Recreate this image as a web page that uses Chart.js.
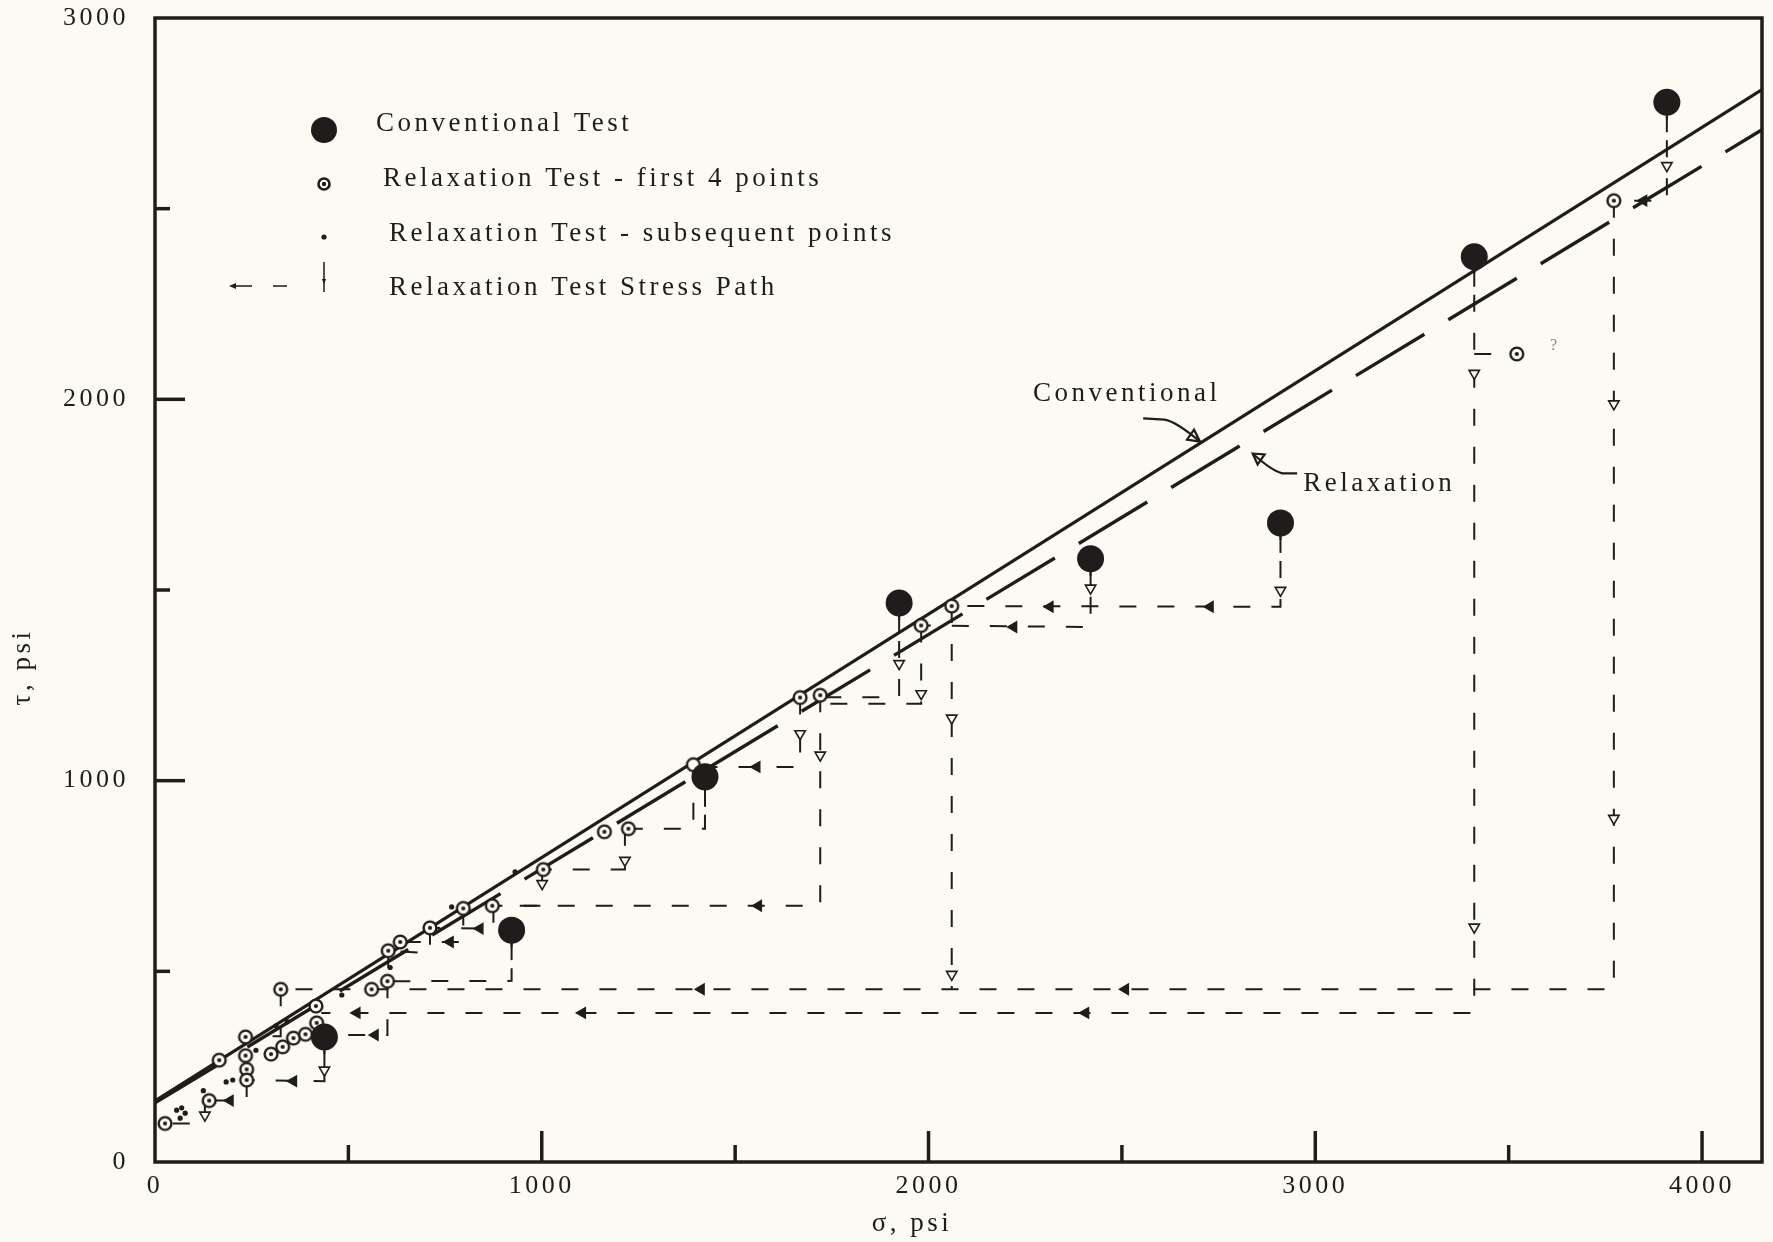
<!DOCTYPE html>
<html><head><meta charset="utf-8">
<script src="https://cdn.jsdelivr.net/npm/chart.js@4.4.1/dist/chart.umd.min.js"></script>
<style>html,body{margin:0;padding:0;background:#fbfaf3;}#wrap{width:1773px;height:1242px;position:relative;}canvas{display:block;}</style>
</head><body><div id="wrap"><canvas id="c"></canvas></div>
<script>
// ---------- DATA ----------
const xTickValues = [0, 1000, 2000, 3000, 4000];
const yTickValues = [0, 1000, 2000, 3000];
const xMarkTicks = [500, 1000, 1500, 2000, 2500, 3000, 3500, 4000];
const yMarkTicks = [500, 1000, 1500, 2000, 2500];

const conventionalSigma = [438, 922, 1422, 1924, 2419, 2910, 3411, 3909];
const conventionalTau   = [328, 608, 1010, 1466, 1582, 1676, 2374, 2779];

const relaxFirstSigma = [26, 140, 166, 234, 234, 237, 237, 325, 300, 330, 358, 389, 418, 416, 560, 601, 603, 634, 711, 797, 872, 1004, 1162, 1224, 1668, 1720, 1981, 2060, 3772, 3521];
const relaxFirstTau   = [101, 161, 267, 328, 279, 243, 215, 453, 283, 302, 325, 335, 365, 409, 453, 474, 554, 577, 614, 665, 672, 767, 866, 874, 1218, 1224, 1407, 1458, 2521, 2119];
const relaxOpenSigma = [1392];
const relaxOpenTau   = [1042];

const subsSigma = [56, 69, 78, 65, 125, 184, 201, 261, 313, 342, 483, 608, 767, 931];
const subsTau   = [136, 142, 128, 115, 187, 210, 215, 293, 357, 368, 438, 510, 669, 761];

const conventionalFitSigma = [0, 4155];
const conventionalFitTau   = [160, 2812];
const relaxationFitSigma = [0, 4155];
const relaxationFitTau   = [155, 2707];

const stressPaths = [
  [[3909,2779],[3909,2521],[3772,2521]],
  [[3772,2521],[3772,453],[325,453]],
  [[3411,2374],[3411,391],[430,391]],
  [[3411,2119],[3521,2119]],
  [[2910,1676],[2910,1456],[2060,1458]],
  [[2060,1458],[2060,453]],
  [[2419,1582],[2419,1403],[1981,1407]],
  [[1981,1407],[1981,1202],[1720,1202]],
  [[1924,1466],[1924,1219],[1720,1219]],
  [[1720,1224],[1720,672],[875,672]],
  [[1668,1218],[1668,1036],[1392,1036]],
  [[1422,1010],[1422,874],[1224,874]],
  [[1392,1042],[1392,874]],
  [[1215,874],[1215,767],[1004,767]],
  [[1001,767],[1001,672],[875,672]],
  [[875,672],[875,612],[711,614]],
  [[797,665],[797,577],[634,577]],
  [[711,614],[711,547],[603,554]],
  [[922,608],[922,475],[601,474]],
  [[603,554],[603,474]],
  [[601,474],[601,333],[440,333]],
  [[325,453],[325,330],[234,328]],
  [[438,328],[438,212],[237,215]],
  [[237,215],[237,161],[140,161]],
  [[129,161],[129,101],[26,101]]
];

const downArrowSigma = [3909, 3772, 3772, 3411, 3411, 2910, 2060, 2060, 2419, 1981, 1924, 1720, 1668, 1215, 1001, 438, 129];
const downArrowTau   = [2613, 1988, 901, 2068, 616, 1499, 1164, 492, 1505, 1228, 1307, 1067, 1123, 791, 730, 241, 123];
const leftArrowSigma = [3849, 2509, 1412, 2406, 1105, 522, 2728, 2314, 2220, 1560, 1556, 840, 763, 569, 358, 194];
const leftArrowTau   = [2521, 453, 453, 391, 391, 391, 1456, 1456, 1403, 672, 1036, 612, 577, 333, 212, 161];

const legendLabels = ['Conventional Test', 'Relaxation Test - first 4 points', 'Relaxation Test - subsequent points', 'Relaxation Test Stress Path'];
const lineLabels = ['Conventional', 'Relaxation'];
const lineLabelSigma = [2270, 2969];
const lineLabelTau = [2015, 1779];
const xTitle = 'σ, psi';
const yTitle = 'τ, psi';

// ---------- STYLE ----------
const INK = '#1e1d1b';
const BG = '#fbfaf3';
const FAMILY = '"Liberation Serif", "DejaVu Serif", serif';

function ringImage(withDot) {
  const c = document.createElement('canvas'); c.width = 18; c.height = 18;
  const g = c.getContext('2d');
  g.beginPath(); g.arc(9, 9, 6.4, 0, Math.PI * 2); g.fillStyle = BG; g.fill();
  g.lineWidth = 2.4; g.strokeStyle = INK; g.stroke();
  if (withDot) { g.beginPath(); g.arc(9, 9, 2.1, 0, Math.PI * 2); g.fillStyle = INK; g.fill(); }
  return c;
}
const ringDot = ringImage(true);
const ringOpen = ringImage(false);
const pts = (xs, ys) => xs.map((x, i) => ({ x: x, y: ys[i] }));

const datasets = [];
datasets.push({ label: legendLabels[0], data: pts(conventionalSigma, conventionalTau), pointRadius: 13.5, pointBackgroundColor: INK, pointBorderWidth: 0, showLine: false, order: 0 });
datasets.push({ label: legendLabels[1], data: pts(relaxFirstSigma, relaxFirstTau), pointStyle: ringDot, pointRadius: 6, showLine: false, order: 1 });
datasets.push({ label: 'open', data: pts(relaxOpenSigma, relaxOpenTau), pointStyle: ringOpen, pointRadius: 6, showLine: false, order: 1 });
datasets.push({ label: legendLabels[2], data: pts(subsSigma, subsTau), pointRadius: 2.6, pointBackgroundColor: INK, pointBorderWidth: 0, showLine: false, order: 1 });
datasets.push({ label: 'down', data: pts(downArrowSigma, downArrowTau), pointStyle: 'triangle', rotation: 180, pointRadius: 6, pointBackgroundColor: BG, pointBorderColor: INK, pointBorderWidth: 1.6, showLine: false, order: 2 });
datasets.push({ label: 'left', data: pts(leftArrowSigma, leftArrowTau), pointStyle: 'triangle', rotation: 270, pointRadius: 6, pointBackgroundColor: INK, pointBorderColor: INK, pointBorderWidth: 1.4, showLine: false, order: 2 });
stressPaths.forEach((p, i) => {
  datasets.push({ label: 'path' + i, data: p.map(v => ({ x: v[0], y: v[1] })), showLine: true, borderColor: INK, borderWidth: 2, borderDash: [17, 21], pointRadius: 0, tension: 0, order: 3 });
});
datasets.push({ label: lineLabels[0], data: pts(conventionalFitSigma, conventionalFitTau), showLine: true, borderColor: INK, borderWidth: 3.2, pointRadius: 0, order: 4 });
datasets.push({ label: lineLabels[1], data: pts(relaxationFitSigma, relaxationFitTau), showLine: true, borderColor: INK, borderWidth: 3.4, borderDash: [80, 28], pointRadius: 0, order: 4 });

function tri(ctx, x, y, dir, s, fill) {
  ctx.beginPath();
  if (dir === 'left') { ctx.moveTo(x, y); ctx.lineTo(x + s * 1.4, y - s * 0.6); ctx.lineTo(x + s * 1.4, y + s * 0.6); }
  else { ctx.moveTo(x, y); ctx.lineTo(x - s * 0.6, y - s * 1.4); ctx.lineTo(x + s * 0.6, y - s * 1.4); }
  ctx.closePath();
  if (fill) { ctx.fillStyle = INK; ctx.fill(); } else { ctx.stroke(); }
}

const decor = {
  id: 'decor',
  beforeUpdate(chart) { chart.ctx.letterSpacing = '3.5px'; },
  beforeDraw(chart) {
    const ctx = chart.ctx;
    ctx.letterSpacing = '3.5px';
    ctx.save(); ctx.fillStyle = BG; ctx.fillRect(0, 0, chart.width, chart.height); ctx.restore();
  },
  beforeDatasetsDraw(chart) {
    const ctx = chart.ctx, a = chart.chartArea, xs = chart.scales.x, ys = chart.scales.y;
    ctx.save();
    ctx.strokeStyle = INK; ctx.lineCap = 'butt';
    ctx.lineWidth = 3.5;
    xMarkTicks.forEach(v => {
      const px = xs.getPixelForValue(v), len = v % 1000 === 0 ? 31 : 17;
      ctx.beginPath(); ctx.moveTo(px, a.bottom); ctx.lineTo(px, a.bottom - len); ctx.stroke();
    });
    yMarkTicks.forEach(v => {
      const py = ys.getPixelForValue(v), len = v % 1000 === 0 ? 30 : 15;
      ctx.beginPath(); ctx.moveTo(a.left, py); ctx.lineTo(a.left + len, py); ctx.stroke();
    });
    ctx.lineWidth = 2;
    conventionalSigma.forEach((s, i) => {
      const px = xs.getPixelForValue(s), py = ys.getPixelForValue(conventionalTau[i]);
      ctx.beginPath(); ctx.moveTo(px, py); ctx.lineTo(px, py + 30); ctx.stroke();
    });
    ctx.restore();
  },
  afterDraw(chart) {
    const ctx = chart.ctx, a = chart.chartArea, xs = chart.scales.x, ys = chart.scales.y;
    ctx.save();
    ctx.strokeStyle = INK; ctx.fillStyle = INK;
    ctx.lineWidth = 3.5;
    ctx.strokeRect(a.left, a.top, a.right - a.left, a.bottom - a.top);
    // legend
    ctx.font = '27px ' + FAMILY; ctx.textBaseline = 'middle'; ctx.textAlign = 'left';
    ctx.letterSpacing = '3.5px';
    ctx.beginPath(); ctx.arc(324, 130, 13, 0, Math.PI * 2); ctx.fill();
    ctx.fillText(legendLabels[0], 376, 124);
    ctx.beginPath(); ctx.arc(324, 184, 5.5, 0, Math.PI * 2); ctx.lineWidth = 2.6; ctx.stroke();
    ctx.beginPath(); ctx.arc(324, 184, 2.2, 0, Math.PI * 2); ctx.fill();
    ctx.fillText(legendLabels[1], 383, 179);
    ctx.beginPath(); ctx.arc(324, 237, 2.6, 0, Math.PI * 2); ctx.fill();
    ctx.fillText(legendLabels[2], 389, 234);
    ctx.lineWidth = 1.5;
    tri(ctx, 229, 286, 'left', 5, true);
    ctx.beginPath(); ctx.moveTo(236, 286); ctx.lineTo(252, 286); ctx.moveTo(273, 286); ctx.lineTo(287, 286);
    ctx.moveTo(324, 262); ctx.lineTo(324, 292); ctx.stroke();
    tri(ctx, 324, 284, 'down', 3.5, true);
    ctx.fillText(legendLabels[3], 389, 288);
    // line labels with leaders
    ctx.fillText(lineLabels[0], xs.getPixelForValue(lineLabelSigma[0]), ys.getPixelForValue(lineLabelTau[0]));
    ctx.fillText(lineLabels[1], xs.getPixelForValue(lineLabelSigma[1]), ys.getPixelForValue(lineLabelTau[1]));
    ctx.lineWidth = 2.2;
    let p0 = [xs.getPixelForValue(2555), ys.getPixelForValue(1950)];
    let p1 = [xs.getPixelForValue(2610), ys.getPixelForValue(1947)];
    let p2 = [xs.getPixelForValue(2702), ys.getPixelForValue(1889)];
    ctx.beginPath(); ctx.moveTo(p0[0], p0[1]); ctx.lineTo(p1[0], p1[1]); ctx.quadraticCurveTo(p1[0] + 12, p1[1] + 2, p2[0], p2[1]); ctx.stroke();
    ctx.beginPath(); ctx.moveTo(p2[0], p2[1]); ctx.lineTo(p2[0] - 13, p2[1] - 2); ctx.lineTo(p2[0] - 6, p2[1] - 12); ctx.closePath(); ctx.stroke();
    p0 = [xs.getPixelForValue(2953), ys.getPixelForValue(1806)];
    p1 = [xs.getPixelForValue(2915), ys.getPixelForValue(1806)];
    p2 = [xs.getPixelForValue(2838), ys.getPixelForValue(1858)];
    ctx.beginPath(); ctx.moveTo(p0[0], p0[1]); ctx.lineTo(p1[0], p1[1]); ctx.quadraticCurveTo(p1[0] - 10, p1[1] - 2, p2[0], p2[1]); ctx.stroke();
    ctx.beginPath(); ctx.moveTo(p2[0], p2[1]); ctx.lineTo(p2[0] + 12, p2[1] + 1); ctx.lineTo(p2[0] + 5, p2[1] + 11); ctx.closePath(); ctx.stroke();
    ctx.font = '16px ' + FAMILY; ctx.fillStyle = '#8a8882'; ctx.letterSpacing = '0px';
    ctx.fillText('?', xs.getPixelForValue(3607), ys.getPixelForValue(2141));
    ctx.fillStyle = INK; ctx.font = '27px ' + FAMILY; ctx.letterSpacing = '3.5px'; ctx.textAlign = 'center';
    ctx.fillText(xTitle, 912, 1224);
    ctx.translate(23, 667); ctx.rotate(-Math.PI / 2);
    ctx.fillText(yTitle, 0, 0);
    ctx.restore();
  }
};

Chart.defaults.font.family = FAMILY;
new Chart(document.getElementById('c'), {
  type: 'scatter',
  data: { datasets: datasets },
  options: {
    responsive: true, maintainAspectRatio: false, animation: false, devicePixelRatio: 1,
    layout: { padding: { top: 18, right: 11, left: 0, bottom: 0 }, autoPadding: false },
    plugins: { legend: { display: false }, tooltip: { enabled: false } },
    elements: { line: { tension: 0 } },
    scales: {
      x: {
        type: 'linear', min: 0, max: 4155,
        grid: { display: false, drawTicks: false }, border: { display: false },
        afterBuildTicks: s => { s.ticks = xTickValues.map(v => ({ value: v })); },
        afterFit: s => { s.height = 80; s.paddingLeft = 0; s.paddingRight = 0; },
        ticks: { font: { size: 26, family: FAMILY }, color: INK, padding: 9, maxRotation: 0, autoSkip: false, callback: v => String(v) }
      },
      y: {
        type: 'linear', min: 0, max: 3000,
        grid: { display: false, drawTicks: false }, border: { display: false },
        afterBuildTicks: s => { s.ticks = yTickValues.map(v => ({ value: v })); },
        afterFit: s => { s.width = 155; s.paddingTop = 0; s.paddingBottom = 0; },
        ticks: { font: { size: 26, family: FAMILY }, color: INK, padding: 26, autoSkip: false, callback: v => String(v) }
      }
    }
  },
  plugins: [decor]
});
</script></body></html>
